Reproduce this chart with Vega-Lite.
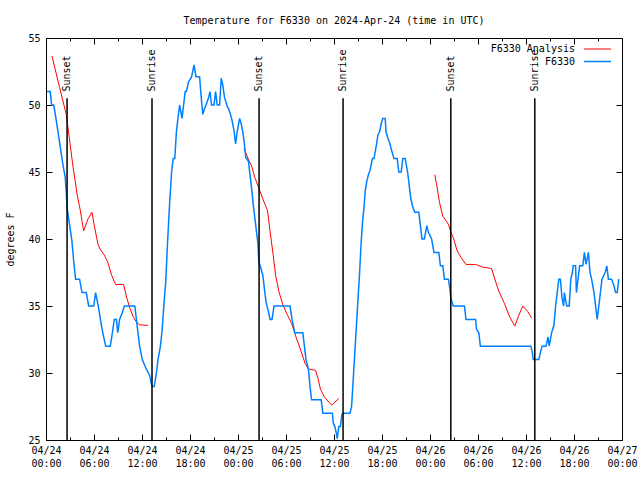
{
"$schema": "https://vega.github.io/schema/vega-lite/v6.json",
"width": 576, "height": 402,
"autosize": {"type": "none"},
"padding": {"left": 46, "top": 38, "right": 18, "bottom": 40},
"background": "white",
"title": {"text": "Temperature for F6330 on 2024-Apr-24 (time in UTC)", "font": "DejaVu Sans Mono", "fontSize": 10, "fontWeight": "normal", "color": "black", "anchor": "middle", "offset": 7},
"config": {"view": {"stroke": "black", "strokeWidth": 1}, "font": "DejaVu Sans Mono",
  "axis": {"labelFont": "DejaVu Sans Mono", "labelFontSize": 10, "labelColor": "black", "titleFont": "DejaVu Sans Mono", "titleFontSize": 10, "titleFontWeight": "normal", "titleColor": "black"}},
"datasets": {
"sun": [
{"t":"2024-04-24T02:38:00Z","label":"Sunset"},
{"t":"2024-04-24T13:15:00Z","label":"Sunrise"},
{"t":"2024-04-25T02:38:00Z","label":"Sunset"},
{"t":"2024-04-25T13:08:00Z","label":"Sunrise"},
{"t":"2024-04-26T02:36:00Z","label":"Sunset"},
{"t":"2024-04-26T13:06:00Z","label":"Sunrise"}
],
"temps": [
{"s":"F6330 Analysis","g":1,"t":"2024-04-24T00:45:00Z","v":53.65},
{"s":"F6330 Analysis","g":1,"t":"2024-04-24T01:42:00Z","v":51.3},
{"s":"F6330 Analysis","g":1,"t":"2024-04-24T02:32:00Z","v":49.3},
{"s":"F6330 Analysis","g":1,"t":"2024-04-24T02:58:00Z","v":47.3},
{"s":"F6330 Analysis","g":1,"t":"2024-04-24T03:24:00Z","v":45.3},
{"s":"F6330 Analysis","g":1,"t":"2024-04-24T03:54:00Z","v":43.3},
{"s":"F6330 Analysis","g":1,"t":"2024-04-24T04:18:00Z","v":42.1},
{"s":"F6330 Analysis","g":1,"t":"2024-04-24T04:42:00Z","v":40.6},
{"s":"F6330 Analysis","g":1,"t":"2024-04-24T05:15:00Z","v":41.5},
{"s":"F6330 Analysis","g":1,"t":"2024-04-24T05:45:00Z","v":42},
{"s":"F6330 Analysis","g":1,"t":"2024-04-24T06:00:00Z","v":41.1},
{"s":"F6330 Analysis","g":1,"t":"2024-04-24T06:30:00Z","v":39.6},
{"s":"F6330 Analysis","g":1,"t":"2024-04-24T06:48:00Z","v":39.2},
{"s":"F6330 Analysis","g":1,"t":"2024-04-24T07:18:00Z","v":38.8},
{"s":"F6330 Analysis","g":1,"t":"2024-04-24T07:42:00Z","v":38.3},
{"s":"F6330 Analysis","g":1,"t":"2024-04-24T08:12:00Z","v":37.3},
{"s":"F6330 Analysis","g":1,"t":"2024-04-24T08:42:00Z","v":36.6},
{"s":"F6330 Analysis","g":1,"t":"2024-04-24T09:42:00Z","v":36.6},
{"s":"F6330 Analysis","g":1,"t":"2024-04-24T10:06:00Z","v":35.6},
{"s":"F6330 Analysis","g":1,"t":"2024-04-24T10:30:00Z","v":34.8},
{"s":"F6330 Analysis","g":1,"t":"2024-04-24T10:54:00Z","v":34.2},
{"s":"F6330 Analysis","g":1,"t":"2024-04-24T11:18:00Z","v":33.8},
{"s":"F6330 Analysis","g":1,"t":"2024-04-24T11:42:00Z","v":33.6},
{"s":"F6330 Analysis","g":1,"t":"2024-04-24T12:45:00Z","v":33.55},
{"s":"F6330 Analysis","g":2,"t":"2024-04-25T00:45:00Z","v":46.75},
{"s":"F6330 Analysis","g":2,"t":"2024-04-25T01:18:00Z","v":45.95},
{"s":"F6330 Analysis","g":2,"t":"2024-04-25T01:42:00Z","v":45.45},
{"s":"F6330 Analysis","g":2,"t":"2024-04-25T02:06:00Z","v":44.6},
{"s":"F6330 Analysis","g":2,"t":"2024-04-25T02:36:00Z","v":43.8},
{"s":"F6330 Analysis","g":2,"t":"2024-04-25T03:06:00Z","v":43},
{"s":"F6330 Analysis","g":2,"t":"2024-04-25T03:42:00Z","v":42.1},
{"s":"F6330 Analysis","g":2,"t":"2024-04-25T04:00:00Z","v":40.6},
{"s":"F6330 Analysis","g":2,"t":"2024-04-25T04:24:00Z","v":38.8},
{"s":"F6330 Analysis","g":2,"t":"2024-04-25T04:42:00Z","v":37.3},
{"s":"F6330 Analysis","g":2,"t":"2024-04-25T05:06:00Z","v":36.1},
{"s":"F6330 Analysis","g":2,"t":"2024-04-25T05:36:00Z","v":35.1},
{"s":"F6330 Analysis","g":2,"t":"2024-04-25T06:12:00Z","v":34.3},
{"s":"F6330 Analysis","g":2,"t":"2024-04-25T06:42:00Z","v":33.7},
{"s":"F6330 Analysis","g":2,"t":"2024-04-25T07:18:00Z","v":32.6},
{"s":"F6330 Analysis","g":2,"t":"2024-04-25T07:54:00Z","v":31.6},
{"s":"F6330 Analysis","g":2,"t":"2024-04-25T08:24:00Z","v":30.7},
{"s":"F6330 Analysis","g":2,"t":"2024-04-25T08:48:00Z","v":30.3},
{"s":"F6330 Analysis","g":2,"t":"2024-04-25T09:42:00Z","v":30.2},
{"s":"F6330 Analysis","g":2,"t":"2024-04-25T10:00:00Z","v":29.6},
{"s":"F6330 Analysis","g":2,"t":"2024-04-25T10:18:00Z","v":28.8},
{"s":"F6330 Analysis","g":2,"t":"2024-04-25T10:48:00Z","v":28.2},
{"s":"F6330 Analysis","g":2,"t":"2024-04-25T11:24:00Z","v":27.8},
{"s":"F6330 Analysis","g":2,"t":"2024-04-25T11:42:00Z","v":27.6},
{"s":"F6330 Analysis","g":2,"t":"2024-04-25T12:36:00Z","v":28.1},
{"s":"F6330 Analysis","g":3,"t":"2024-04-26T00:36:00Z","v":44.8},
{"s":"F6330 Analysis","g":3,"t":"2024-04-26T00:54:00Z","v":43.8},
{"s":"F6330 Analysis","g":3,"t":"2024-04-26T01:12:00Z","v":42.7},
{"s":"F6330 Analysis","g":3,"t":"2024-04-26T01:36:00Z","v":41.7},
{"s":"F6330 Analysis","g":3,"t":"2024-04-26T02:18:00Z","v":41.1},
{"s":"F6330 Analysis","g":3,"t":"2024-04-26T02:30:00Z","v":40.7},
{"s":"F6330 Analysis","g":3,"t":"2024-04-26T02:58:00Z","v":40},
{"s":"F6330 Analysis","g":3,"t":"2024-04-26T03:24:00Z","v":39.1},
{"s":"F6330 Analysis","g":3,"t":"2024-04-26T03:54:00Z","v":38.6},
{"s":"F6330 Analysis","g":3,"t":"2024-04-26T04:30:00Z","v":38.1},
{"s":"F6330 Analysis","g":3,"t":"2024-04-26T05:42:00Z","v":38.1},
{"s":"F6330 Analysis","g":3,"t":"2024-04-26T06:36:00Z","v":37.9},
{"s":"F6330 Analysis","g":3,"t":"2024-04-26T07:42:00Z","v":37.8},
{"s":"F6330 Analysis","g":3,"t":"2024-04-26T08:06:00Z","v":37},
{"s":"F6330 Analysis","g":3,"t":"2024-04-26T08:36:00Z","v":36.1},
{"s":"F6330 Analysis","g":3,"t":"2024-04-26T09:18:00Z","v":35.2},
{"s":"F6330 Analysis","g":3,"t":"2024-04-26T09:57:00Z","v":34.2},
{"s":"F6330 Analysis","g":3,"t":"2024-04-26T10:36:00Z","v":33.5},
{"s":"F6330 Analysis","g":3,"t":"2024-04-26T11:06:00Z","v":34.3},
{"s":"F6330 Analysis","g":3,"t":"2024-04-26T11:36:00Z","v":35},
{"s":"F6330 Analysis","g":3,"t":"2024-04-26T12:12:00Z","v":34.6},
{"s":"F6330 Analysis","g":3,"t":"2024-04-26T12:42:00Z","v":34.1},
{"s":"F6330","g":0,"t":"2024-04-24T00:07:00Z","v":51},
{"s":"F6330","g":0,"t":"2024-04-24T00:32:00Z","v":51},
{"s":"F6330","g":0,"t":"2024-04-24T00:42:00Z","v":50},
{"s":"F6330","g":0,"t":"2024-04-24T00:58:00Z","v":50},
{"s":"F6330","g":0,"t":"2024-04-24T01:10:00Z","v":49.3},
{"s":"F6330","g":0,"t":"2024-04-24T01:30:00Z","v":48},
{"s":"F6330","g":0,"t":"2024-04-24T01:48:00Z","v":46.8},
{"s":"F6330","g":0,"t":"2024-04-24T02:06:00Z","v":45.6},
{"s":"F6330","g":0,"t":"2024-04-24T02:24:00Z","v":44.6},
{"s":"F6330","g":0,"t":"2024-04-24T02:32:00Z","v":43.5},
{"s":"F6330","g":0,"t":"2024-04-24T02:38:00Z","v":42.3},
{"s":"F6330","g":0,"t":"2024-04-24T02:58:00Z","v":41},
{"s":"F6330","g":0,"t":"2024-04-24T03:15:00Z","v":39.8},
{"s":"F6330","g":0,"t":"2024-04-24T03:28:00Z","v":38.3},
{"s":"F6330","g":0,"t":"2024-04-24T03:42:00Z","v":37},
{"s":"F6330","g":0,"t":"2024-04-24T04:12:00Z","v":37},
{"s":"F6330","g":0,"t":"2024-04-24T04:30:00Z","v":36},
{"s":"F6330","g":0,"t":"2024-04-24T05:02:00Z","v":36},
{"s":"F6330","g":0,"t":"2024-04-24T05:20:00Z","v":35},
{"s":"F6330","g":0,"t":"2024-04-24T05:58:00Z","v":35},
{"s":"F6330","g":0,"t":"2024-04-24T06:12:00Z","v":36},
{"s":"F6330","g":0,"t":"2024-04-24T06:32:00Z","v":35},
{"s":"F6330","g":0,"t":"2024-04-24T06:48:00Z","v":34},
{"s":"F6330","g":0,"t":"2024-04-24T07:06:00Z","v":33},
{"s":"F6330","g":0,"t":"2024-04-24T07:28:00Z","v":32},
{"s":"F6330","g":0,"t":"2024-04-24T08:02:00Z","v":32},
{"s":"F6330","g":0,"t":"2024-04-24T08:18:00Z","v":33},
{"s":"F6330","g":0,"t":"2024-04-24T08:32:00Z","v":34},
{"s":"F6330","g":0,"t":"2024-04-24T08:48:00Z","v":34},
{"s":"F6330","g":0,"t":"2024-04-24T08:58:00Z","v":33},
{"s":"F6330","g":0,"t":"2024-04-24T09:12:00Z","v":34},
{"s":"F6330","g":0,"t":"2024-04-24T09:32:00Z","v":34.5},
{"s":"F6330","g":0,"t":"2024-04-24T09:48:00Z","v":35},
{"s":"F6330","g":0,"t":"2024-04-24T11:06:00Z","v":35},
{"s":"F6330","g":0,"t":"2024-04-24T11:18:00Z","v":34},
{"s":"F6330","g":0,"t":"2024-04-24T11:30:00Z","v":33},
{"s":"F6330","g":0,"t":"2024-04-24T11:42:00Z","v":32},
{"s":"F6330","g":0,"t":"2024-04-24T12:02:00Z","v":31},
{"s":"F6330","g":0,"t":"2024-04-24T12:32:00Z","v":30.3},
{"s":"F6330","g":0,"t":"2024-04-24T12:58:00Z","v":29.8},
{"s":"F6330","g":0,"t":"2024-04-24T13:10:00Z","v":29.2},
{"s":"F6330","g":0,"t":"2024-04-24T13:18:00Z","v":29},
{"s":"F6330","g":0,"t":"2024-04-24T13:32:00Z","v":29},
{"s":"F6330","g":0,"t":"2024-04-24T13:48:00Z","v":30},
{"s":"F6330","g":0,"t":"2024-04-24T14:00:00Z","v":31},
{"s":"F6330","g":0,"t":"2024-04-24T14:18:00Z","v":32},
{"s":"F6330","g":0,"t":"2024-04-24T14:32:00Z","v":33.3},
{"s":"F6330","g":0,"t":"2024-04-24T14:42:00Z","v":34.8},
{"s":"F6330","g":0,"t":"2024-04-24T14:58:00Z","v":36.8},
{"s":"F6330","g":0,"t":"2024-04-24T15:12:00Z","v":39.8},
{"s":"F6330","g":0,"t":"2024-04-24T15:28:00Z","v":42.8},
{"s":"F6330","g":0,"t":"2024-04-24T15:42:00Z","v":45},
{"s":"F6330","g":0,"t":"2024-04-24T15:54:00Z","v":46},
{"s":"F6330","g":0,"t":"2024-04-24T16:06:00Z","v":46},
{"s":"F6330","g":0,"t":"2024-04-24T16:18:00Z","v":48},
{"s":"F6330","g":0,"t":"2024-04-24T16:32:00Z","v":49.2},
{"s":"F6330","g":0,"t":"2024-04-24T16:42:00Z","v":50},
{"s":"F6330","g":0,"t":"2024-04-24T17:00:00Z","v":49},
{"s":"F6330","g":0,"t":"2024-04-24T17:12:00Z","v":50},
{"s":"F6330","g":0,"t":"2024-04-24T17:24:00Z","v":51},
{"s":"F6330","g":0,"t":"2024-04-24T17:33:00Z","v":51},
{"s":"F6330","g":0,"t":"2024-04-24T17:48:00Z","v":51.7},
{"s":"F6330","g":0,"t":"2024-04-24T18:12:00Z","v":52.1},
{"s":"F6330","g":0,"t":"2024-04-24T18:30:00Z","v":53},
{"s":"F6330","g":0,"t":"2024-04-24T18:45:00Z","v":52.1},
{"s":"F6330","g":0,"t":"2024-04-24T19:12:00Z","v":52.1},
{"s":"F6330","g":0,"t":"2024-04-24T19:24:00Z","v":50.6},
{"s":"F6330","g":0,"t":"2024-04-24T19:36:00Z","v":49.3},
{"s":"F6330","g":0,"t":"2024-04-24T19:48:00Z","v":49.7},
{"s":"F6330","g":0,"t":"2024-04-24T20:00:00Z","v":50},
{"s":"F6330","g":0,"t":"2024-04-24T20:18:00Z","v":50.5},
{"s":"F6330","g":0,"t":"2024-04-24T20:30:00Z","v":51},
{"s":"F6330","g":0,"t":"2024-04-24T20:42:00Z","v":50},
{"s":"F6330","g":0,"t":"2024-04-24T21:00:00Z","v":50},
{"s":"F6330","g":0,"t":"2024-04-24T21:12:00Z","v":51},
{"s":"F6330","g":0,"t":"2024-04-24T21:24:00Z","v":50},
{"s":"F6330","g":0,"t":"2024-04-24T21:42:00Z","v":50},
{"s":"F6330","g":0,"t":"2024-04-24T21:54:00Z","v":52},
{"s":"F6330","g":0,"t":"2024-04-24T22:06:00Z","v":51.5},
{"s":"F6330","g":0,"t":"2024-04-24T22:18:00Z","v":50.6},
{"s":"F6330","g":0,"t":"2024-04-24T22:36:00Z","v":50},
{"s":"F6330","g":0,"t":"2024-04-24T22:54:00Z","v":49.6},
{"s":"F6330","g":0,"t":"2024-04-24T23:12:00Z","v":49},
{"s":"F6330","g":0,"t":"2024-04-24T23:30:00Z","v":48.1},
{"s":"F6330","g":0,"t":"2024-04-24T23:42:00Z","v":47.1},
{"s":"F6330","g":0,"t":"2024-04-24T23:54:00Z","v":48},
{"s":"F6330","g":0,"t":"2024-04-25T00:12:00Z","v":49},
{"s":"F6330","g":0,"t":"2024-04-25T00:24:00Z","v":48.6},
{"s":"F6330","g":0,"t":"2024-04-25T00:36:00Z","v":48},
{"s":"F6330","g":0,"t":"2024-04-25T00:48:00Z","v":47.1},
{"s":"F6330","g":0,"t":"2024-04-25T00:58:00Z","v":46.1},
{"s":"F6330","g":0,"t":"2024-04-25T01:18:00Z","v":45.8},
{"s":"F6330","g":0,"t":"2024-04-25T01:30:00Z","v":44.8},
{"s":"F6330","g":0,"t":"2024-04-25T01:42:00Z","v":43.8},
{"s":"F6330","g":0,"t":"2024-04-25T01:54:00Z","v":42.6},
{"s":"F6330","g":0,"t":"2024-04-25T02:06:00Z","v":41.6},
{"s":"F6330","g":0,"t":"2024-04-25T02:18:00Z","v":40.6},
{"s":"F6330","g":0,"t":"2024-04-25T02:30:00Z","v":39.6},
{"s":"F6330","g":0,"t":"2024-04-25T02:36:00Z","v":38.3},
{"s":"F6330","g":0,"t":"2024-04-25T02:48:00Z","v":37.95},
{"s":"F6330","g":0,"t":"2024-04-25T03:06:00Z","v":37.3},
{"s":"F6330","g":0,"t":"2024-04-25T03:18:00Z","v":36.3},
{"s":"F6330","g":0,"t":"2024-04-25T03:30:00Z","v":35.3},
{"s":"F6330","g":0,"t":"2024-04-25T03:48:00Z","v":34.6},
{"s":"F6330","g":0,"t":"2024-04-25T04:00:00Z","v":34},
{"s":"F6330","g":0,"t":"2024-04-25T04:15:00Z","v":34},
{"s":"F6330","g":0,"t":"2024-04-25T04:30:00Z","v":35},
{"s":"F6330","g":0,"t":"2024-04-25T06:30:00Z","v":35},
{"s":"F6330","g":0,"t":"2024-04-25T06:45:00Z","v":34},
{"s":"F6330","g":0,"t":"2024-04-25T07:06:00Z","v":33},
{"s":"F6330","g":0,"t":"2024-04-25T08:06:00Z","v":33},
{"s":"F6330","g":0,"t":"2024-04-25T08:18:00Z","v":32},
{"s":"F6330","g":0,"t":"2024-04-25T08:30:00Z","v":31},
{"s":"F6330","g":0,"t":"2024-04-25T08:48:00Z","v":30.3},
{"s":"F6330","g":0,"t":"2024-04-25T09:00:00Z","v":29},
{"s":"F6330","g":0,"t":"2024-04-25T09:12:00Z","v":28},
{"s":"F6330","g":0,"t":"2024-04-25T10:24:00Z","v":28},
{"s":"F6330","g":0,"t":"2024-04-25T10:36:00Z","v":27},
{"s":"F6330","g":0,"t":"2024-04-25T11:48:00Z","v":27},
{"s":"F6330","g":0,"t":"2024-04-25T11:54:00Z","v":26.3},
{"s":"F6330","g":0,"t":"2024-04-25T12:06:00Z","v":26},
{"s":"F6330","g":0,"t":"2024-04-25T12:18:00Z","v":25.5},
{"s":"F6330","g":0,"t":"2024-04-25T12:24:00Z","v":25.1},
{"s":"F6330","g":0,"t":"2024-04-25T12:36:00Z","v":26},
{"s":"F6330","g":0,"t":"2024-04-25T12:48:00Z","v":26},
{"s":"F6330","g":0,"t":"2024-04-25T12:59:00Z","v":26.9},
{"s":"F6330","g":0,"t":"2024-04-25T13:06:00Z","v":27},
{"s":"F6330","g":0,"t":"2024-04-25T14:00:00Z","v":27},
{"s":"F6330","g":0,"t":"2024-04-25T14:12:00Z","v":27.5},
{"s":"F6330","g":0,"t":"2024-04-25T14:24:00Z","v":29.5},
{"s":"F6330","g":0,"t":"2024-04-25T14:36:00Z","v":31.5},
{"s":"F6330","g":0,"t":"2024-04-25T14:48:00Z","v":33.5},
{"s":"F6330","g":0,"t":"2024-04-25T15:00:00Z","v":35.5},
{"s":"F6330","g":0,"t":"2024-04-25T15:12:00Z","v":37.5},
{"s":"F6330","g":0,"t":"2024-04-25T15:24:00Z","v":39.8},
{"s":"F6330","g":0,"t":"2024-04-25T15:36:00Z","v":41.5},
{"s":"F6330","g":0,"t":"2024-04-25T15:45:00Z","v":42.3},
{"s":"F6330","g":0,"t":"2024-04-25T15:54:00Z","v":43.6},
{"s":"F6330","g":0,"t":"2024-04-25T16:06:00Z","v":44.3},
{"s":"F6330","g":0,"t":"2024-04-25T16:18:00Z","v":44.8},
{"s":"F6330","g":0,"t":"2024-04-25T16:30:00Z","v":45.1},
{"s":"F6330","g":0,"t":"2024-04-25T16:48:00Z","v":46},
{"s":"F6330","g":0,"t":"2024-04-25T17:00:00Z","v":46},
{"s":"F6330","g":0,"t":"2024-04-25T17:18:00Z","v":47},
{"s":"F6330","g":0,"t":"2024-04-25T17:30:00Z","v":47.8},
{"s":"F6330","g":0,"t":"2024-04-25T17:42:00Z","v":48},
{"s":"F6330","g":0,"t":"2024-04-25T17:54:00Z","v":48.6},
{"s":"F6330","g":0,"t":"2024-04-25T18:06:00Z","v":49},
{"s":"F6330","g":0,"t":"2024-04-25T18:24:00Z","v":49},
{"s":"F6330","g":0,"t":"2024-04-25T18:30:00Z","v":48},
{"s":"F6330","g":0,"t":"2024-04-25T18:42:00Z","v":47.6},
{"s":"F6330","g":0,"t":"2024-04-25T19:00:00Z","v":47.1},
{"s":"F6330","g":0,"t":"2024-04-25T19:12:00Z","v":46.6},
{"s":"F6330","g":0,"t":"2024-04-25T19:30:00Z","v":46},
{"s":"F6330","g":0,"t":"2024-04-25T19:54:00Z","v":46},
{"s":"F6330","g":0,"t":"2024-04-25T20:06:00Z","v":45},
{"s":"F6330","g":0,"t":"2024-04-25T20:24:00Z","v":45},
{"s":"F6330","g":0,"t":"2024-04-25T20:36:00Z","v":46},
{"s":"F6330","g":0,"t":"2024-04-25T20:54:00Z","v":46},
{"s":"F6330","g":0,"t":"2024-04-25T21:12:00Z","v":45},
{"s":"F6330","g":0,"t":"2024-04-25T21:24:00Z","v":44},
{"s":"F6330","g":0,"t":"2024-04-25T21:36:00Z","v":43},
{"s":"F6330","g":0,"t":"2024-04-25T21:54:00Z","v":42.3},
{"s":"F6330","g":0,"t":"2024-04-25T22:06:00Z","v":42},
{"s":"F6330","g":0,"t":"2024-04-25T22:36:00Z","v":42},
{"s":"F6330","g":0,"t":"2024-04-25T22:48:00Z","v":41},
{"s":"F6330","g":0,"t":"2024-04-25T23:00:00Z","v":40},
{"s":"F6330","g":0,"t":"2024-04-25T23:18:00Z","v":40},
{"s":"F6330","g":0,"t":"2024-04-25T23:36:00Z","v":41},
{"s":"F6330","g":0,"t":"2024-04-25T23:48:00Z","v":40.5},
{"s":"F6330","g":0,"t":"2024-04-26T00:12:00Z","v":40},
{"s":"F6330","g":0,"t":"2024-04-26T00:30:00Z","v":39},
{"s":"F6330","g":0,"t":"2024-04-26T01:06:00Z","v":39},
{"s":"F6330","g":0,"t":"2024-04-26T01:18:00Z","v":38},
{"s":"F6330","g":0,"t":"2024-04-26T01:36:00Z","v":38},
{"s":"F6330","g":0,"t":"2024-04-26T01:48:00Z","v":37},
{"s":"F6330","g":0,"t":"2024-04-26T02:18:00Z","v":37},
{"s":"F6330","g":0,"t":"2024-04-26T02:30:00Z","v":36.2},
{"s":"F6330","g":0,"t":"2024-04-26T02:36:00Z","v":35.6},
{"s":"F6330","g":0,"t":"2024-04-26T02:54:00Z","v":35},
{"s":"F6330","g":0,"t":"2024-04-26T04:18:00Z","v":35},
{"s":"F6330","g":0,"t":"2024-04-26T04:30:00Z","v":34},
{"s":"F6330","g":0,"t":"2024-04-26T05:42:00Z","v":34},
{"s":"F6330","g":0,"t":"2024-04-26T05:48:00Z","v":33.3},
{"s":"F6330","g":0,"t":"2024-04-26T06:06:00Z","v":33},
{"s":"F6330","g":0,"t":"2024-04-26T06:18:00Z","v":32},
{"s":"F6330","g":0,"t":"2024-04-26T12:36:00Z","v":32},
{"s":"F6330","g":0,"t":"2024-04-26T12:48:00Z","v":31.5},
{"s":"F6330","g":0,"t":"2024-04-26T12:54:00Z","v":31},
{"s":"F6330","g":0,"t":"2024-04-26T13:36:00Z","v":31},
{"s":"F6330","g":0,"t":"2024-04-26T13:48:00Z","v":31.5},
{"s":"F6330","g":0,"t":"2024-04-26T14:00:00Z","v":32},
{"s":"F6330","g":0,"t":"2024-04-26T14:30:00Z","v":32},
{"s":"F6330","g":0,"t":"2024-04-26T14:45:00Z","v":32.7},
{"s":"F6330","g":0,"t":"2024-04-26T14:54:00Z","v":32},
{"s":"F6330","g":0,"t":"2024-04-26T15:12:00Z","v":33},
{"s":"F6330","g":0,"t":"2024-04-26T15:30:00Z","v":33.6},
{"s":"F6330","g":0,"t":"2024-04-26T15:42:00Z","v":35},
{"s":"F6330","g":0,"t":"2024-04-26T15:54:00Z","v":36},
{"s":"F6330","g":0,"t":"2024-04-26T16:06:00Z","v":37},
{"s":"F6330","g":0,"t":"2024-04-26T16:18:00Z","v":37},
{"s":"F6330","g":0,"t":"2024-04-26T16:30:00Z","v":35.6},
{"s":"F6330","g":0,"t":"2024-04-26T16:42:00Z","v":35},
{"s":"F6330","g":0,"t":"2024-04-26T16:48:00Z","v":36},
{"s":"F6330","g":0,"t":"2024-04-26T17:00:00Z","v":35.3},
{"s":"F6330","g":0,"t":"2024-04-26T17:06:00Z","v":35},
{"s":"F6330","g":0,"t":"2024-04-26T17:24:00Z","v":35},
{"s":"F6330","g":0,"t":"2024-04-26T17:36:00Z","v":37},
{"s":"F6330","g":0,"t":"2024-04-26T17:48:00Z","v":37.5},
{"s":"F6330","g":0,"t":"2024-04-26T17:54:00Z","v":38},
{"s":"F6330","g":0,"t":"2024-04-26T18:12:00Z","v":38},
{"s":"F6330","g":0,"t":"2024-04-26T18:18:00Z","v":36},
{"s":"F6330","g":0,"t":"2024-04-26T18:30:00Z","v":37},
{"s":"F6330","g":0,"t":"2024-04-26T18:42:00Z","v":38},
{"s":"F6330","g":0,"t":"2024-04-26T19:06:00Z","v":38},
{"s":"F6330","g":0,"t":"2024-04-26T19:18:00Z","v":39},
{"s":"F6330","g":0,"t":"2024-04-26T19:30:00Z","v":38.1},
{"s":"F6330","g":0,"t":"2024-04-26T19:48:00Z","v":39},
{"s":"F6330","g":0,"t":"2024-04-26T20:00:00Z","v":37.5},
{"s":"F6330","g":0,"t":"2024-04-26T20:12:00Z","v":37},
{"s":"F6330","g":0,"t":"2024-04-26T20:30:00Z","v":36},
{"s":"F6330","g":0,"t":"2024-04-26T20:42:00Z","v":35},
{"s":"F6330","g":0,"t":"2024-04-26T20:54:00Z","v":34},
{"s":"F6330","g":0,"t":"2024-04-26T21:06:00Z","v":35},
{"s":"F6330","g":0,"t":"2024-04-26T21:18:00Z","v":36},
{"s":"F6330","g":0,"t":"2024-04-26T21:30:00Z","v":37},
{"s":"F6330","g":0,"t":"2024-04-26T21:54:00Z","v":37.5},
{"s":"F6330","g":0,"t":"2024-04-26T22:06:00Z","v":38},
{"s":"F6330","g":0,"t":"2024-04-26T22:18:00Z","v":37},
{"s":"F6330","g":0,"t":"2024-04-26T22:42:00Z","v":37},
{"s":"F6330","g":0,"t":"2024-04-26T23:00:00Z","v":36.5},
{"s":"F6330","g":0,"t":"2024-04-26T23:12:00Z","v":36},
{"s":"F6330","g":0,"t":"2024-04-26T23:24:00Z","v":36},
{"s":"F6330","g":0,"t":"2024-04-26T23:36:00Z","v":37}
]
},
"encoding": {
  "x": {"field": "t", "type": "temporal",
    "scale": {"type": "utc", "domain": [1713916800000, 1714176000000], "nice": false},
    "axis": {"title": null, "tickCount": 36,
      "labelExpr": "utchours(datum.value) % 6 == 0 ? [utcFormat(datum.value, '%m/%d'), utcFormat(datum.value, '%H:%M')] : ''",
      "labelOverlap": false, "labelFlush": false, "labelPadding": 5, "labelLineHeight": 13, "labelBaseline": "top",
      "ticks": false, "domain": false, "grid": true, "gridColor": "black", "gridOpacity": 1, "gridWidth": 1,
      "gridDash": {"condition": {"test": "utchours(datum.value) % 6 == 0", "value": [6, 390, 6, 1000]}, "value": [3, 396, 3, 1000]}}}
},
"layer": [
  {"data": {"name": "temps"},
   "mark": {"type": "line", "clip": true},
   "encoding": {
     "y": {"field": "v", "type": "quantitative", "scale": {"domain": [25, 55], "nice": false, "zero": false},
       "axis": {"title": "degrees F", "values": [25, 30, 35, 40, 45, 50, 55], "ticks": false, "domain": false, "labelPadding": 6, "titlePadding": 12,
         "grid": true, "gridColor": "black", "gridOpacity": 1, "gridWidth": 1, "gridDash": [6, 564, 6, 1000]}},
     "color": {"field": "s", "type": "nominal", "scale": {"domain": ["F6330 Analysis", "F6330"], "range": ["#ff0000", "#0080ff"]},
       "legend": {"orient": "none", "legendX": 546, "legendY": 6, "title": null, "padding": 0, "symbolType": "M-3,0H3", "symbolSize": 81, "symbolStrokeWidth": 1.2,
         "labelAlign": "right", "labelOffset": -28, "labelFont": "DejaVu Sans Mono", "labelFontSize": 10, "labelColor": "black", "rowPadding": 2}},
     "strokeWidth": {"field": "s", "type": "nominal", "scale": {"domain": ["F6330 Analysis", "F6330"], "range": [1, 1.5]}, "legend": null},
     "detail": {"field": "g", "type": "nominal"}
   }},
  {"data": {"name": "sun"},
   "mark": {"type": "rule", "color": "black", "strokeWidth": 1.5},
   "encoding": {"y": {"datum": 25, "type": "quantitative"}, "y2": {"datum": 50.5}}},
  {"data": {"name": "sun"},
   "mark": {"type": "text", "angle": 270, "align": "left", "baseline": "middle", "font": "DejaVu Sans Mono", "fontSize": 10, "color": "black"},
   "encoding": {"y": {"datum": 51, "type": "quantitative"}, "text": {"field": "label"}}}
]
}
